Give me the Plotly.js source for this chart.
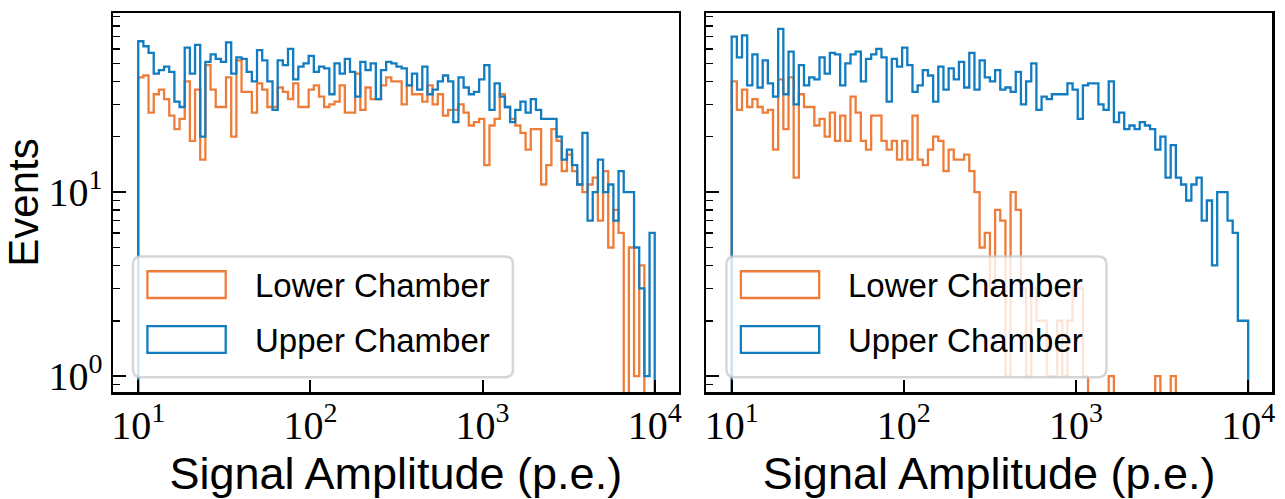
<!DOCTYPE html>
<html>
<head>
<meta charset="utf-8">
<script src="https://cdn.plot.ly/plotly-3.0.1.min.js"></script>
<style>html,body{margin:0;padding:0;background:#fff;}#chart{width:1285px;height:499px;}</style>
</head>
<body>
<div id="chart"></div>
<script>
// ---- data (counts per log-spaced bin, 100 bins from 10 to 10^4) ----
const binStartExp = 1;
const binEndExp = 4;
const binCount = 100;
const seriesNames = ["Lower Chamber", "Upper Chamber"];
const xTickVals = [10, 100, 1000, 10000];
const xTickText = ["10<sup>1</sup>", "10<sup>2</sup>", "10<sup>3</sup>", "10<sup>4</sup>"];
const yTickVals = [1, 10];
const yTickText = ["10<sup>0</sup>", "10<sup>1</sup>"];
const xTitle = "Signal Amplitude (p.e.)";
const yTitle = "Events";

const leftLower = [42,43,27,34,36,32,26,22,25,40, 19,36,15,49,36,29,29,42,20,52,
  35,35,27,39,36,29,29,37,35,32, 39,29,29,36,38,33,29,30,31,38,
  27,27,44,28,37,32,32,38,42,40, 40,30,38,34,34,31,38,30,34,26,
  28,28,30,27,23,24,25,14,23,25, 34,29,25,23,21,17,22,22,11,14,
  22,19,13,16,13,11,10,11,12,7, 13,5,8,6,0,5,1,4,0,0];
const leftUpper = [66,62,57,44,46,48,45,31,29,61, 44,63,20,51,56,53,51,65,44,54,
  53,45,40,59,52,40,28,52,49,60, 41,48,50,55,45,48,47,34,50,44,
  53,45,33,51,46,50,32,46,51,50, 48,47,38,44,36,48,34,36,40,43,
  40,24,42,37,34,35,41,49,28,39, 33,29,24,28,31,27,32,28,25,25,
  25,20,15,17,14,11,21,7,10,15, 10,11,7,13,10,10,5,3,1,6];
const rightLower = [40,28,36,29,32,29,27,28,17,41, 22,42,12,34,29,29,23,25,20,27,
  19,26,19,33,27,19,17,26,26,19, 17,19,15,19,15,26,15,14,17,20,
  19,13,17,15,15,16,13,10,5,6, 3,8,7,1,10,8,3,1,3,2,
  2,1,1,2,1,2,3,3,1,0, 0,0,0,1,0,0,0,0,0,0,
  0,0,1,0,0,1,0,0,0,0, 0,0,0,0,0,0,0,0,0,0];
const rightUpper = [70,54,71,38,56,37,52,39,33,77, 34,58,30,49,38,42,41,54,44,57,
  56,38,50,56,58,40,53,56,60,54, 31,53,48,61,49,35,38,46,43,31,
  48,36,47,41,51,37,57,36,52,42, 40,46,36,37,35,45,30,40,50,28,
  33,32,34,34,34,39,36,25,38,39, 39,30,28,40,24,27,22,23,22,24,
  23,22,17,20,12,18,12,11,9,11, 12,7,9,4,10,10,7,6,2,2];

// ---- style ----
const colLower = "#ef7d3a";
const colUpper = "#127cc0";
const W = 1285, H = 499;
const M = {l:113, r:10, t:10, b:106};
const PW = W - M.l - M.r, PH = H - M.t - M.b;
const sansFont = "Liberation Sans, Arial, sans-serif";
const serifFont = "Liberation Serif, Times New Roman, serif";

const edges = [];
for (let i = 0; i <= binCount; i++) edges.push(Math.pow(10, binStartExp + (binEndExp - binStartExp) * i / binCount));
const FLOOR = 1e-3;
function stepTrace(counts, name, color, xa, ya) {
  const x = [edges[0]], y = [FLOOR];
  for (let i = 0; i < counts.length; i++) { x.push(edges[i]); y.push(counts[i] > 0 ? counts[i] : FLOOR); }
  x.push(edges[counts.length]); y.push(FLOOR);
  return {type:"scatter", mode:"lines", x:x, y:y, name:name, xaxis:xa, yaxis:ya,
    line:{shape:"hv", color:color, width:2.3}, showlegend:false, hoverinfo:"skip"};
}

const data = [
  stepTrace(leftLower, seriesNames[0], colLower, "x", "y"),
  stepTrace(leftUpper, seriesNames[1], colUpper, "x", "y"),
  stepTrace(rightLower, seriesNames[0], colLower, "x2", "y2"),
  stepTrace(rightUpper, seriesNames[1], colUpper, "x2", "y2")
];

function px(xp) { return (xp - M.l) / PW; }
function py(yp) { return (M.t + PH - yp) / PH; }

function xAxis(domain, anchor) {
  return {type:"log", domain:domain, anchor:anchor, range:[0.8534, 4.1384],
    tickmode:"array", tickvals:xTickVals, ticktext:xTickText,
    ticks:"inside", ticklen:12, tickwidth:2, tickcolor:"#000", ticklabelstandoff:-4,
    showline:true, linewidth:2.5, linecolor:"#000", mirror:true,
    showgrid:false, zeroline:false, automargin:true,
    tickfont:{family:serifFont, size:40, color:"#000"},
    title:{text:xTitle, font:{family:sansFont, size:45, color:"#000"}, standoff:10}};
}
function yAxis(domain, anchor, labels) {
  const a = {type:"log", domain:domain, anchor:anchor, range:[-0.086, 1.973],
    tickmode:"array", tickvals:yTickVals, ticktext:yTickText, showticklabels:labels,
    ticks:"inside", ticklen:13, tickwidth:2.5, tickcolor:"#000",
    minor:{tickmode:"array", tickvals:[0.9,2,3,4,5,6,7,8,9,20,30,40,50,60,70,80,90],
      ticks:"inside", ticklen:7, tickwidth:1.5, tickcolor:"#000", showgrid:false},
    showline:true, linewidth:2.5, linecolor:"#000", mirror:true,
    showgrid:false, zeroline:false, automargin:true,
    tickfont:{family:serifFont, size:40, color:"#000"}};
  if (labels) a.title = {text:yTitle, font:{family:sansFont, size:42, color:"#000"}, standoff:8};
  return a;
}

function roundRectPath(x0, y0, x1, y1, r) {
  const P = (a, b) => px(a).toFixed(5) + "," + py(b).toFixed(5);
  return "M" + P(x0 + r, y0) + " L" + P(x1 - r, y0) + " Q" + P(x1, y0) + " " + P(x1, y0 + r) +
    " L" + P(x1, y1 - r) + " Q" + P(x1, y1) + " " + P(x1 - r, y1) +
    " L" + P(x0 + r, y1) + " Q" + P(x0, y1) + " " + P(x0, y1 - r) +
    " L" + P(x0, y0 + r) + " Q" + P(x0, y0) + " " + P(x0 + r, y0) + " Z";
}

const shapes = [], annotations = [];
[0, 595].forEach(off => {
  shapes.push({type:"path", xref:"paper", yref:"paper", layer:"above",
    path:roundRectPath(133 + off, 256, 514 + off, 378, 8),
    fillcolor:"rgba(255,255,255,0.8)", line:{color:"rgba(204,204,204,0.8)", width:2.5}});
  shapes.push({type:"rect", xref:"paper", yref:"paper", layer:"above",
    x0:px(147.5 + off), x1:px(226 + off), y0:py(298), y1:py(271),
    fillcolor:"rgba(0,0,0,0)", line:{color:colLower, width:2.3}});
  shapes.push({type:"rect", xref:"paper", yref:"paper", layer:"above",
    x0:px(147.5 + off), x1:px(226 + off), y0:py(353.5), y1:py(326.5),
    fillcolor:"rgba(0,0,0,0)", line:{color:colUpper, width:2.3}});
  annotations.push({xref:"paper", yref:"paper", x:px(253 + off), y:py(285), xanchor:"left", yanchor:"middle",
    text:seriesNames[0], showarrow:false, font:{family:sansFont, size:33, color:"#000"}});
  annotations.push({xref:"paper", yref:"paper", x:px(253 + off), y:py(341), xanchor:"left", yanchor:"middle",
    text:seriesNames[1], showarrow:false, font:{family:sansFont, size:33, color:"#000"}});
});

const layout = {
  width:W, height:H, margin:M, paper_bgcolor:"#fff", plot_bgcolor:"#fff", showlegend:false,
  xaxis: xAxis([0, 567/PW], "y"),
  yaxis: yAxis([0, 1], "x", true),
  xaxis2: xAxis([595/PW, 1], "y2"),
  yaxis2: yAxis([0, 1], "x2", false),
  shapes: shapes, annotations: annotations
};

Plotly.newPlot("chart", data, layout, {staticPlot:true, displayModeBar:false});
</script>
</body>
</html>
